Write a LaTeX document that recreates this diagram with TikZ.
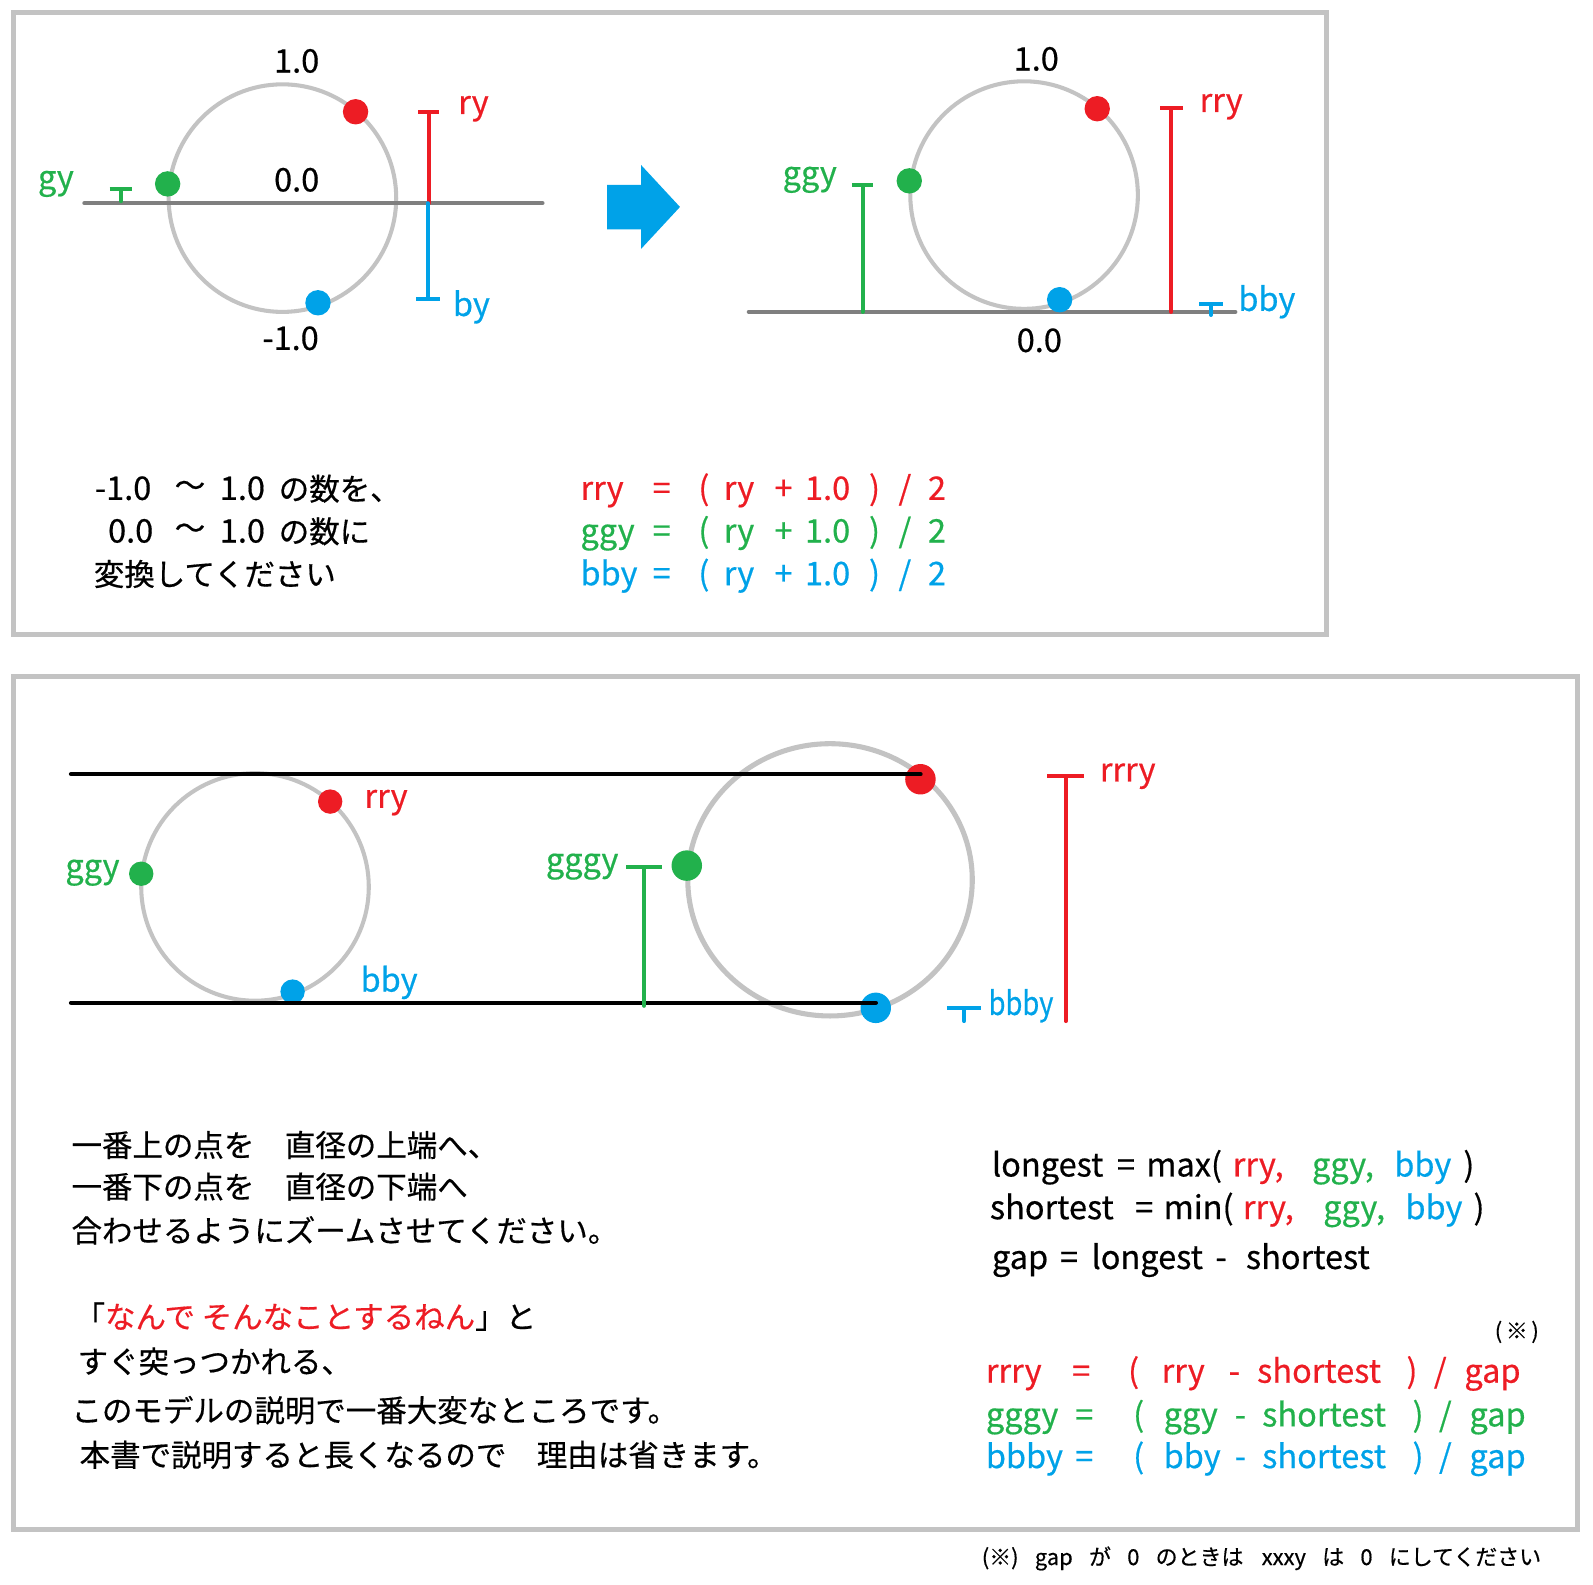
\documentclass[tikz,border=0pt]{standalone}
\usepackage{graphicx}
\usepackage{fontspec}
\usetikzlibrary{arrows.meta}
\newfontfamily\jpfam[FakeBold=0.5]{Noto Sans CJK JP}
\definecolor{pred}{HTML}{ED1C24}
\definecolor{pgreen}{HTML}{22B14C}
\definecolor{pblue}{HTML}{00A2E8}
\definecolor{ring}{HTML}{C3C3C3}
\definecolor{axis}{HTML}{7F7F7F}
\newcommand\jpf{\jpfam\fontsize{15}{18}\selectfont}
\newcommand\latf{\jpfam\fontsize{16}{19}\selectfont}
\newcommand\notef{\jpfam\fontsize{10.8}{13}\selectfont}

\begin{document}
\begin{tikzpicture}[x=0.5pt, y=-0.5pt,
  frame/.style={draw=ring, line width=2.45pt},
  wheel/.style={draw=ring, line width=2pt},
  axisline/.style={draw=axis, line width=2pt, line cap=round},
  zoomline/.style={draw=black, line width=2.2pt, line cap=round},
  dot/.style={circle, inner sep=0pt, minimum size=12.5pt},
  rdot/.style={dot, fill=pred},
  gdot/.style={dot, fill=pgreen},
  bdot/.style={dot, fill=pblue},
  tbar/.style={line width=2pt, line cap=round, -{Bar[width=#1]}},
  lab/.style={font=\latf, inner sep=0pt},
  tok/.style={font=\latf, inner sep=0pt, anchor=base west, yshift=-5.5pt},
  jp/.style={font=\jpf, inner sep=0pt, anchor=west}
]
\useasboundingbox (0,0) rectangle (1568,1560);

\draw[frame] (13.3,12.3) rectangle (1305.6,624.5);
\draw[frame] (13.3,665.8) rectangle (1552.7,1505.4);

% top left: -1.0 .. 1.0
\draw[wheel] (278,195) circle (112);
\coordinate (axL) at (83,200);
\coordinate (axR) at (534,200);
\draw[axisline] (axL) -- (axR);
\node[rdot] (r1) at (350,110) {};
\node[gdot] (g1) at (165,181) {};
\node[bdot] (b1) at (313,298) {};
\node[lab] (one1) at (292,60) {1.0};
\node[lab] (zero1) at (292,177) {0.0};
\node[lab] (mone1) at (286,333) {-1.0};

\coordinate (gyb) at (119,198);
\coordinate (gyt) at (119,184);
\coordinate (ryb) at (422,200);
\coordinate (ryt) at (422,108);
\coordinate (byt) at (421,200);
\coordinate (byb) at (421,296);
\draw[tbar=11pt, pgreen] (gyb) -- (gyt);
\draw[tbar=10.5pt, pred] (ryb) -- (ryt);
\draw[tbar=12pt, pblue] (byt) -- (byb);
\node[lab, pgreen] (gy) at (55,181) {gy};
\node[lab, pred] (ry) at (466,107) {ry};
\node[lab, pblue] (by) at (464,302) {by};

% arrow
\fill[pblue] (597.7,182) -- (631,182) -- (631,162.4) -- (669.3,203.7)
  -- (631,245) -- (631,225.7) -- (597.7,225.7) -- cycle;

% top right: 0.0 .. 1.0
\draw[wheel] (1008,192) circle (112);
\coordinate (ax2L) at (737,307);
\coordinate (ax2R) at (1216,307);
\draw[axisline] (ax2L) -- (ax2R);
\node[rdot] (r2) at (1080,107) {};
\node[gdot] (g2) at (895,178) {};
\node[bdot] (b2) at (1043,295) {};
\node[lab] (one2) at (1020,58) {1.0};
\node[lab] (zero2) at (1023,335) {0.0};

\coordinate (ggyb) at (849,307);
\coordinate (ggyt) at (849,180);
\coordinate (rryb) at (1153,307);
\coordinate (rryt) at (1153,104);
\coordinate (bbyb) at (1192,310);
\coordinate (bbyt) at (1192,297);
\draw[tbar=10.5pt, pgreen] (ggyb) -- (ggyt);
\draw[tbar=11pt, pred] (rryb) -- (rryt);
\draw[tbar=11.5pt, pblue] (bbyb) -- (bbyt);
\node[lab, pgreen] (ggy) at (797,177) {ggy};
\node[lab, pred] (rry) at (1202,105) {rry};
\node[lab, pblue] (bby) at (1247,297) {bby};

% text of the top box
\node[tok] (t1a) at (93,481) {-1.0};
\node[jp, anchor=center] (t1b) at (187,481) {～};
\node[tok] (t1c) at (216,481) {1.0};
\node[jp] (t1d) at (274,481) {の数を、};
\node[tok] (t2a) at (106,523) {0.0};
\node[jp, anchor=center] (t2b) at (187,523) {～};
\node[tok] (t2c) at (216,523) {1.0};
\node[jp] (t2d) at (274,523) {の数に};
\node[jp] (t3) at (92,565) {変換してください};

\foreach \yy/\cc/\nm in {481/pred/rry, 523/pgreen/ggy, 565/pblue/bby} {
  \foreach \px/\tx in {571/\nm, 642/=, 687/(, 712/ry, 762/+, 792/1.0, 855/), 884/\slash, 913/2}
    \node[tok, text=\cc] (f\yy-\px) at (\px,\yy) {\tx};
}

% bottom left: before zoom
\draw[wheel] (251,873) circle (112);
\node[rdot, minimum size=12pt] (r3) at (325,789) {};
\node[gdot, minimum size=12pt] (g3) at (139,860) {};
\node[bdot, minimum size=12pt] (b3) at (288,976) {};
\node[lab, pred] (rry3) at (380,790) {rry};
\node[lab, pgreen] (ggy3) at (91,859) {ggy};
\node[lab, pblue] (bby3) at (383,967) {bby};

% bottom right: after zoom
\draw[wheel, line width=2.5pt] (817,866) ellipse (140 and 134);
\node[rdot, minimum size=15pt] (r4) at (906,767) {};
\node[gdot, minimum size=15pt] (g4) at (676,852) {};
\node[bdot, minimum size=15pt] (b4) at (862,992) {};

\coordinate (topL) at (70,762);
\coordinate (botL) at (70,987);
\draw[zoomline] (topL) -- (topL -| r4.center);
\draw[zoomline] (botL) -- (botL -| b4.center);

\coordinate (gggyb) at (634,990);
\coordinate (gggyt) at (634,851);
\coordinate (rrryb) at (1049,1005);
\coordinate (rrryt) at (1049,762);
\coordinate (bbbyb) at (949,1005);
\coordinate (bbbyt) at (949,990);
\draw[tbar=17.5pt, pgreen] (gggyb) -- (gggyt);
\draw[tbar=18pt, pred] (rrryb) -- (rrryt);
\draw[tbar=17pt, pblue] (bbbyb) -- (bbbyt);
\node[lab, pgreen] (gggy) at (573,853) {gggy};
\node[lab, pred] (rrry) at (1110,764) {rrry};
\node[lab, pblue] (bbby) at (1005,990) {\scalebox{0.84}[1]{bbby}};

% text of the bottom box
\node[jp] (u1) at (70,1127) {一番上の点を　直径の上端へ、};
\node[jp] (u2) at (70,1168) {一番下の点を　直径の下端へ};
\node[jp] (u3) at (70,1211) {合わせるようにズームさせてください。};
\node[jp] (u4) at (73,1296) {「\textcolor{pred}{なんで そんなことするねん}」と};
\node[jp] (u5) at (76,1340) {すぐ突っつかれる、};
\node[jp] (u6) at (70,1388) {このモデルの説明で一番大変なところです。};
\node[jp] (u7) at (78,1432) {本書で説明すると長くなるので　理由は省きます。};

\foreach \px/\tx/\cc in {976/longest/black, 1099/=/black, 1128/max(/black,
    1213/{rry,}/pred, 1291/{ggy,}/pgreen, 1372/bby/pblue, 1440/)/black}
  \node[tok, text=\cc] (m\px) at (\px,1147) {\tx};
\foreach \px/\tx/\cc in {974/shortest/black, 1117/=/black, 1145/min(/black,
    1223/{rry,}/pred, 1302/{ggy,}/pgreen, 1383/bby/pblue, 1450/)/black}
  \node[tok, text=\cc] (n\px) at (\px,1189) {\tx};
\foreach \px/\tx in {976/gap, 1043/=, 1074/longest, 1196/-, 1226/shortest}
  \node[tok] (p\px) at (\px,1238) {\tx};

\node[font=\notef, inner sep=0pt] (mark) at (1493,1311) {(\,※\,)};

\foreach \px/\tx in {970/rrry, 1055/=, 1110/(, 1143/rry, 1209/-, 1237/shortest, 1384/), 1411/\slash, 1441/gap}
  \node[tok, text=pred] (q\px) at (\px,1350) {\tx};
\foreach \yy/\cc/\nm/\sm in {1393/pgreen/gggy/ggy, 1434/pblue/bbby/bby} {
  \foreach \px/\tx in {970/\nm, 1058/=, 1115/(, 1145/\sm, 1215/-, 1242/shortest, 1390/), 1416/\slash, 1446/gap}
    \node[tok, text=\cc] (s\yy-\px) at (\px,\yy) {\tx};
}

\node[font=\notef, inner sep=0pt, anchor=west] (note) at (966,1534)
  {(※)\hspace{8pt}gap\hspace{8pt}が\hspace{8pt}0\hspace{8pt}のときは\hspace{9pt}xxxy\hspace{8pt}は\hspace{8pt}0\hspace{8pt}にしてください};
\end{tikzpicture}
\end{document}
